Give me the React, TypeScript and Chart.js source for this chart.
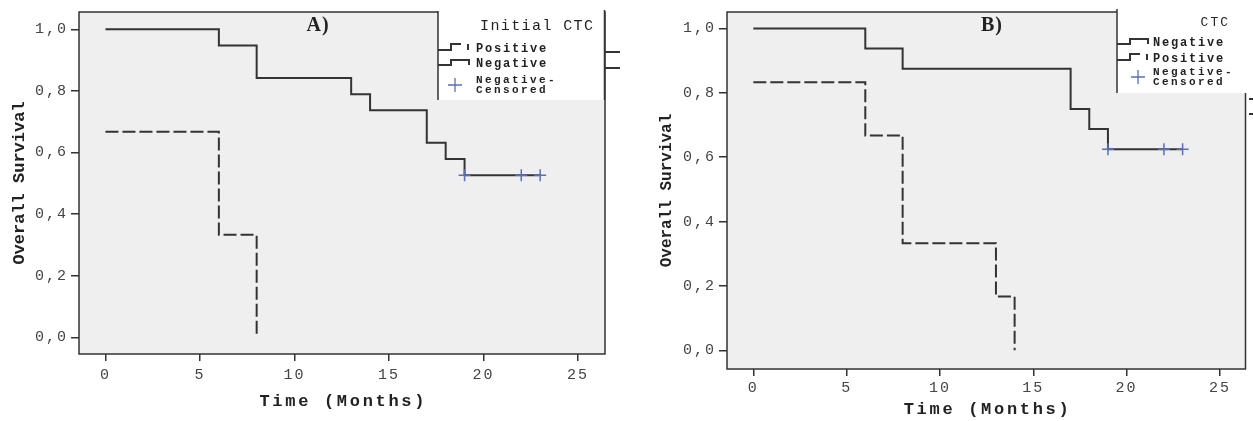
import React, { useEffect, useRef } from "react";
import { Chart, registerables } from "chart.js";

Chart.register(...registerables);

// ---- data ----
const xTickValues = [0, 5, 10, 15, 20, 25];
const yTickValues = [0, 0.2, 0.4, 0.6, 0.8, 1.0];

// Panel A (Initial CTC)
const aNegTime = [0, 6, 8, 13, 14, 17, 18, 19, 23];
const aNegSurv = [1.0, 0.947, 0.842, 0.789, 0.737, 0.632, 0.579, 0.526, 0.526];
const aPosTime = [0, 6, 8];
const aPosSurv = [0.667, 0.333, 0.0];
const aCensTime = [19, 22, 23];
const aCensSurv = [0.526, 0.526, 0.526];

// Panel B (CTC)
const bNegTime = [0, 6, 8, 17, 18, 19, 23];
const bNegSurv = [1.0, 0.9375, 0.875, 0.75, 0.6875, 0.625, 0.625];
const bPosTime = [0, 6, 8, 13, 14];
const bPosSurv = [0.833, 0.667, 0.333, 0.167, 0.0];
const bCensTime = [19, 22, 23];
const bCensSurv = [0.625, 0.625, 0.625];

const yTitle = "Overall Survival";
const xTitle = "Time (Months)";
const legendTitleA = "Initial CTC";
const legendTitleB = "CTC";
const labelPositive = "Positive";
const labelNegative = "Negative";
const labelCensored = ["Negative-", "Censored"];

// ---- styles ----
const LINE = "#333333";
const CENS = "#5a6fba";
const BG = "#efefef";
const MONO = "'Liberation Mono', 'DejaVu Sans Mono', monospace";
const SERIF = "'Liberation Serif', 'DejaVu Serif', serif";
const H = 421;

const pts = (t: number[], s: number[]) => t.map((x, i) => ({ x, y: s[i] }));

type LegendItem = { kind: "solid" | "dash" | "cross"; lines: string[]; ys: number[] };

type Panel = {
  left: number;
  width: number;
  area: { left: number; top: number; right: number; bottom: number };
  xMin: number; xMax: number; yMin: number; yMax: number;
  neg: { x: number; y: number }[];
  pos: { x: number; y: number }[];
  cens: { x: number; y: number }[];
  label: string; labelX: number; labelY: number;
  yTitleX: number; yTitleSize: number; xTitleY: number;
  tickPad: number;
  legend: {
    x: number; y: number; w: number; h: number; rightBorder: boolean;
    title: string; titleRight: number; titleY: number; titleSize: number; titleSpacing: number;
    symX: number; textX: number; crossX: number;
    items: LegendItem[];
  };
  stubs: { x1: number; x2: number; y: number; color: string }[];
};

const panelA: Panel = {
  left: 0,
  width: 626,
  area: { left: 79, top: 10, right: 605, bottom: 354 },
  xMin: -1.4, xMax: 26.43, yMin: -0.054, yMax: 1.056,
  neg: pts(aNegTime, aNegSurv),
  pos: pts(aPosTime, aPosSurv),
  cens: pts(aCensTime, aCensSurv),
  label: "A)", labelX: 318, labelY: 31,
  yTitleX: 20, yTitleSize: 17, xTitleY: 402,
  tickPad: 5,
  legend: {
    x: 438, y: 10, w: 167, h: 90, rightBorder: true,
    title: legendTitleA, titleRight: 593, titleY: 26, titleSize: 15, titleSpacing: 1.4,
    symX: 438, textX: 476, crossX: 455,
    items: [
      { kind: "dash", lines: [labelPositive], ys: [49] },
      { kind: "solid", lines: [labelNegative], ys: [64] },
      { kind: "cross", lines: labelCensored, ys: [80, 90] },
    ],
  },
  stubs: [
    { x1: 605, x2: 620, y: 52, color: LINE },
    { x1: 605, x2: 620, y: 68, color: LINE },
  ],
};

const panelB: Panel = {
  left: 626,
  width: 627,
  area: { left: 727, top: 8, right: 1249, bottom: 369 },
  xMin: -1.41, xMax: 26.37, yMin: -0.058, yMax: 1.051,
  neg: pts(bNegTime, bNegSurv),
  pos: pts(bPosTime, bPosSurv),
  cens: pts(bCensTime, bCensSurv),
  label: "B)", labelX: 992, labelY: 31,
  yTitleX: 667, yTitleSize: 16, xTitleY: 410,
  tickPad: 3,
  legend: {
    x: 1117, y: 8, w: 136, h: 85, rightBorder: false,
    title: legendTitleB, titleRight: 1228, titleY: 23, titleSize: 13, titleSpacing: 2,
    symX: 1117, textX: 1153, crossX: 1138,
    items: [
      { kind: "solid", lines: [labelNegative], ys: [43] },
      { kind: "dash", lines: [labelPositive], ys: [59] },
      { kind: "cross", lines: labelCensored, ys: [72, 82] },
    ],
  },
  stubs: [
    { x1: 1249, x2: 1253, y: 99, color: LINE },
    { x1: 1249, x2: 1253, y: 114, color: LINE },
  ],
};

function makePlugin(p: Panel) {
  const ox = p.left;
  return {
    id: "kmDecor",
    beforeDraw(chart: any) {
      const ctx = chart.ctx;
      const a = chart.chartArea;
      ctx.save();
      ctx.fillStyle = BG;
      ctx.fillRect(a.left, a.top, a.right - a.left, a.bottom - a.top);
      ctx.restore();
      ctx.letterSpacing = "2px";
    },
    afterDatasetsDraw(chart: any) {
      const ctx = chart.ctx;
      const a = chart.chartArea;
      ctx.save();
      ctx.strokeStyle = LINE;
      ctx.lineWidth = 1.5;
      ctx.strokeRect(a.left, a.top, a.right - a.left, a.bottom - a.top);
      ctx.restore();
    },
    afterDraw(chart: any) {
      const ctx = chart.ctx;
      const L = p.legend;
      ctx.save();
      ctx.letterSpacing = "0px";
      // legend box
      ctx.fillStyle = "#ffffff";
      ctx.fillRect(L.x - ox, L.y, L.w, L.h);
      ctx.strokeStyle = LINE;
      ctx.lineWidth = 1.5;
      ctx.beginPath();
      ctx.moveTo(L.x - ox, L.y + 1);
      ctx.lineTo(L.x - ox, L.y + L.h);
      if (L.rightBorder) {
        ctx.moveTo(L.x + L.w - ox - 0.5, L.y);
        ctx.lineTo(L.x + L.w - ox - 0.5, L.y + L.h);
      }
      ctx.stroke();

      // legend title
      ctx.fillStyle = "#222";
      ctx.font = `${L.titleSize}px ${MONO}`;
      ctx.letterSpacing = `${L.titleSpacing}px`;
      ctx.textAlign = "right";
      ctx.textBaseline = "middle";
      ctx.fillText(L.title, L.titleRight - ox + L.titleSpacing, L.titleY);

      // legend items
      ctx.textAlign = "left";
      L.items.forEach((it) => {
        const y = it.ys[0];
        const sx = L.symX - ox;
        ctx.strokeStyle = LINE;
        ctx.lineWidth = 2;
        if (it.kind === "solid") {
          ctx.setLineDash([]);
          ctx.beginPath();
          ctx.moveTo(sx, y + 1);
          ctx.lineTo(sx + 13, y + 1);
          ctx.lineTo(sx + 13, y - 4);
          ctx.lineTo(sx + 31, y - 4);
          ctx.lineTo(sx + 31, y + 1);
          ctx.stroke();
        } else if (it.kind === "dash") {
          ctx.setLineDash([]);
          ctx.beginPath();
          ctx.moveTo(sx, y + 1);
          ctx.lineTo(sx + 13, y + 1);
          ctx.lineTo(sx + 13, y - 5);
          ctx.lineTo(sx + 23, y - 5);
          ctx.moveTo(sx + 30, y - 5);
          ctx.lineTo(sx + 30, y + 1);
          ctx.stroke();
        } else {
          const cx = L.crossX - ox;
          const cy = (it.ys[0] + it.ys[it.ys.length - 1]) / 2;
          ctx.strokeStyle = CENS;
          ctx.lineWidth = 1.3;
          ctx.beginPath();
          ctx.moveTo(cx - 7, cy);
          ctx.lineTo(cx + 7, cy);
          ctx.moveTo(cx, cy - 7);
          ctx.lineTo(cx, cy + 7);
          ctx.stroke();
        }
        ctx.fillStyle = "#222";
        if (it.kind === "cross") {
          ctx.font = `bold 11px ${MONO}`;
          ctx.letterSpacing = "2.4px";
        } else {
          ctx.font = `bold 12px ${MONO}`;
          ctx.letterSpacing = "1.8px";
        }
        it.lines.forEach((t, k) => {
          ctx.fillText(t, L.textX - ox, it.ys[k]);
        });
      });

      // stubs
      p.stubs.forEach((s) => {
        ctx.strokeStyle = s.color;
        ctx.lineWidth = 2;
        ctx.beginPath();
        ctx.moveTo(s.x1 - ox, s.y);
        ctx.lineTo(s.x2 - ox, s.y);
        ctx.stroke();
      });

      // panel label
      ctx.letterSpacing = "1px";
      ctx.font = `bold 20px ${SERIF}`;
      ctx.fillStyle = "#222";
      ctx.textAlign = "center";
      ctx.textBaseline = "alphabetic";
      ctx.fillText(p.label, p.labelX - ox, p.labelY);

      // axis titles
      const a = chart.chartArea;
      ctx.fillStyle = "#222";
      ctx.textBaseline = "middle";
      ctx.textAlign = "center";
      ctx.font = `bold 17px ${MONO}`;
      ctx.letterSpacing = "2.7px";
      ctx.fillText(xTitle, (a.left + a.right) / 2 + 1.3, p.xTitleY);

      ctx.letterSpacing = "0px";
      ctx.font = `bold ${p.yTitleSize}px ${MONO}`;
      ctx.translate(p.yTitleX - ox, (a.top + a.bottom) / 2);
      ctx.rotate(-Math.PI / 2);
      ctx.fillText(yTitle, 0, 0);
      ctx.restore();
    },
  };
}

function KMChart({ p }: { p: Panel }) {
  const ref = useRef<HTMLCanvasElement>(null);
  useEffect(() => {
    if (!ref.current) return;
    const tickFont = { family: MONO, size: 15 };
    const chart = new Chart(ref.current, {
      type: "scatter",
      data: {
        datasets: [
          {
            label: "Negative-Censored",
            data: p.cens,
            showLine: false,
            pointStyle: "cross",
            pointRadius: 6,
            pointBorderWidth: 1.5,
            borderColor: CENS,
            backgroundColor: CENS,
          },
          {
            label: "Negative",
            data: p.neg,
            showLine: true,
            stepped: true,
            pointRadius: 0,
            borderColor: LINE,
            borderWidth: 2,
            fill: false,
          },
          {
            label: "Positive",
            data: p.pos,
            showLine: true,
            stepped: true,
            pointRadius: 0,
            borderColor: LINE,
            borderWidth: 2,
            borderDash: [13, 4],
            fill: false,
          },
        ],
      },
      options: {
        animation: false,
        responsive: false,
        maintainAspectRatio: false,
        layout: {
          padding: {
            left: 0,
            top: p.area.top,
            right: p.width - (p.area.right - p.left),
            bottom: 0,
          },
        },
        plugins: {
          legend: { display: false },
          tooltip: { enabled: false },
          title: { display: false },
        },
        scales: {
          x: {
            type: "linear",
            min: p.xMin,
            max: p.xMax,
            afterFit: (s: any) => {
              s.height = H - p.area.bottom;
            },
            afterBuildTicks: (s: any) => {
              s.ticks = xTickValues.map((v) => ({ value: v }));
            },
            grid: {
              display: true,
              drawOnChartArea: false,
              drawTicks: true,
              tickLength: 7,
              color: LINE,
              lineWidth: 1.5,
            },
            border: { display: false },
            ticks: {
              font: tickFont,
              color: "#444",
              padding: p.tickPad,
              maxRotation: 0,
              autoSkip: false,
              callback: (v: any) => String(v),
            },
          },
          y: {
            type: "linear",
            min: p.yMin,
            max: p.yMax,
            afterFit: (s: any) => {
              s.width = p.area.left - p.left;
            },
            afterBuildTicks: (s: any) => {
              s.ticks = yTickValues.map((v) => ({ value: v }));
            },
            grid: {
              display: true,
              drawOnChartArea: false,
              drawTicks: true,
              tickLength: 8,
              color: LINE,
              lineWidth: 1.5,
            },
            border: { display: false },
            ticks: {
              font: tickFont,
              color: "#444",
              padding: 3,
              autoSkip: false,
              callback: (v: any) => Number(v).toFixed(1).replace(".", ","),
            },
          },
        },
      },
      plugins: [makePlugin(p)],
    } as any);
    return () => chart.destroy();
  }, [p]);
  return (
    <canvas
      ref={ref}
      width={p.width}
      height={H}
      style={{ position: "absolute", left: p.left, top: 0, width: p.width, height: H }}
    />
  );
}

export default function App() {
  return (
    <div
      style={{
        position: "fixed",
        left: 0,
        top: 0,
        width: 1253,
        height: H,
        background: "#ffffff",
        overflow: "hidden",
      }}
    >
      <KMChart p={panelA} />
      <KMChart p={panelB} />
    </div>
  );
}
